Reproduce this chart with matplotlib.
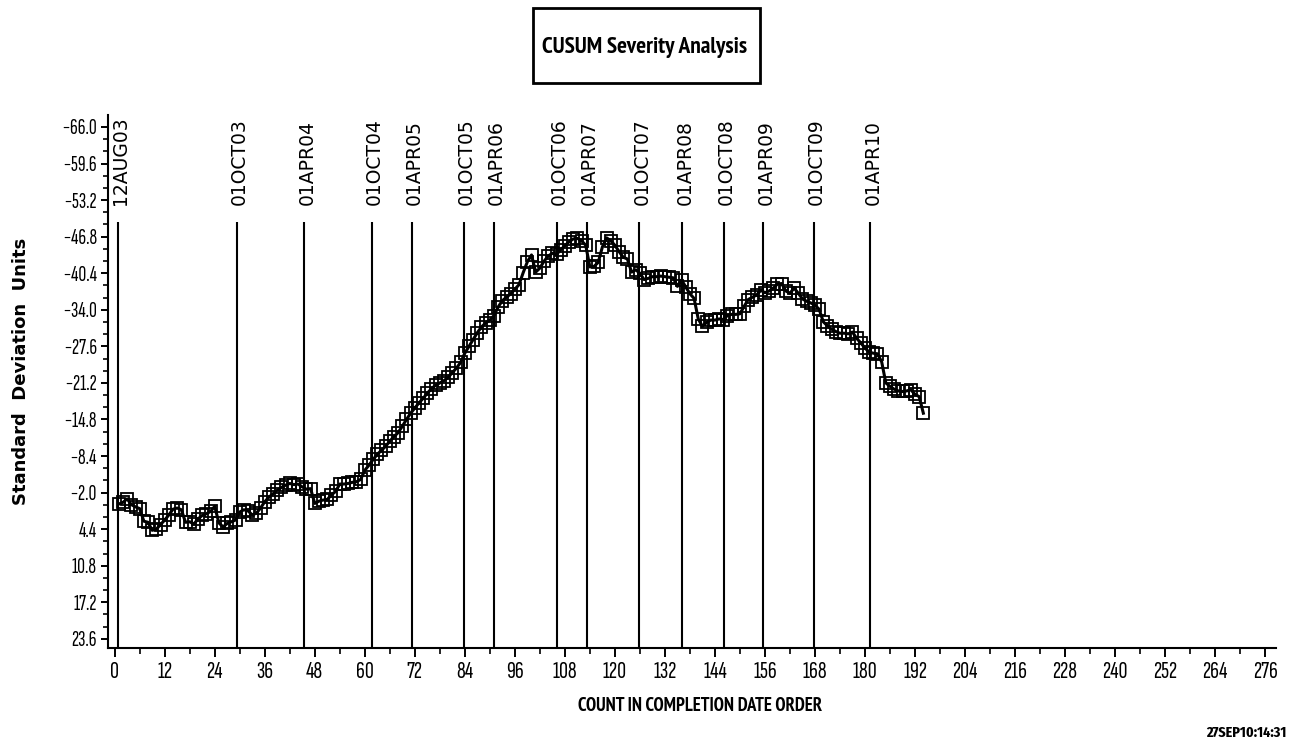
import os
import math
import matplotlib
matplotlib.use('Agg')
import matplotlib.pyplot as plt
from matplotlib import font_manager as fm
from matplotlib.ft2font import FT2Font
from matplotlib.patches import Rectangle
from matplotlib.ticker import FixedLocator

# ---------------- data ----------------
counts = list(range(1, 195))
cusum = [
    0.0, -0.3, -0.9, 0.1, 0.5, 0.8, 3.0, 3.2, 4.6, 4.4,
    3.6, 2.8, 1.9, 0.9, 0.7, 1.0, 3.2, 3.1, 3.5, 2.6,
    2.0, 1.7, 1.3, 0.4, 3.3, 4.0, 3.4, 3.1, 2.8, 1.4,
    1.0, 1.2, 1.9, 1.6, 0.7, -0.4, -1.2, -1.8, -2.4, -2.9,
    -3.3, -3.6, -3.4, -3.5, -3.0, -2.6, -2.7, -0.1, -0.5, -0.7,
    -0.8, -1.6, -2.2, -3.5, -3.5, -3.6, -3.8, -3.9, -4.3, -5.9,
    -6.8, -7.8, -8.7, -9.4, -10.1, -11.0, -11.8, -12.5, -13.6, -14.8,
    -15.9, -16.8, -17.7, -18.5, -19.4, -20.2, -20.8, -21.2, -21.6, -22.2,
    -23.0, -23.8, -24.8, -26.4, -27.6, -28.8, -30.0, -31.0, -31.7, -32.2,
    -33.0, -34.5, -35.6, -36.2, -36.8, -37.6, -38.4, -40.5, -42.4, -43.6,
    -40.6, -41.3, -42.5, -43.4, -43.9, -43.7, -44.5, -45.2, -45.9, -46.4,
    -46.5, -46.1, -45.3, -41.5, -41.6, -42.3, -45.0, -46.6, -46.1, -45.3,
    -44.2, -43.2, -42.9, -40.6, -41.0, -40.4, -39.3, -39.5, -39.8, -39.8,
    -39.9, -39.8, -39.7, -39.6, -38.1, -39.2, -38.0, -36.8, -36.0, -32.4,
    -31.1, -31.8, -32.2, -32.2, -32.4, -32.3, -33.0, -33.2, -33.2, -33.3,
    -34.6, -35.8, -36.2, -36.6, -37.4, -37.0, -37.3, -37.8, -38.5, -38.6,
    -37.3, -36.9, -37.8, -36.9, -35.9, -35.5, -35.2, -34.8, -34.1, -31.9,
    -31.2, -30.6, -30.2, -29.9, -29.9, -29.8, -30.1, -29.0, -28.2, -27.3,
    -26.6, -26.4, -26.3, -24.9, -21.2, -20.6, -20.1, -19.8, -19.7, -19.8,
    -20.0, -19.2, -18.8, -15.9,
]

event_labels = ['12AUG03', '01OCT03', '01APR04', '01OCT04', '01APR05',
                '01OCT05', '01APR06', '01OCT06', '01APR07', '01OCT07',
                '01APR08', '01OCT08', '01APR09', '01OCT09', '01APR10']
event_pos = [0.9, 29.3, 45.5, 61.7, 71.3, 83.7, 90.9, 106.1, 113.3, 125.9,
             136.2, 146.1, 155.6, 167.7, 181.3]

ytick_vals = [-66.0, -59.6, -53.2, -46.8, -40.4, -34.0, -27.6, -21.2,
              -14.8, -8.4, -2.0, 4.4, 10.8, 17.2, 23.6]
ytick_labels = ['\u221266.0', '\u221259.6', '\u221253.2', '\u221246.8',
                '\u221240.4', '\u221234.0', '\u221227.6', '\u221221.2',
                '\u221214.8', '\u22128.4', '\u22122.0', '4.4', '10.8',
                '17.2', '23.6']
xtick_vals = list(range(0, 277, 12))

title = 'CUSUM Severity Analysis'
xlabel = 'COUNT IN COMPLETION DATE ORDER'
ylabel = 'Standard  Deviation  Units'
stamp = '27SEP10:14:31'


# ---------------- fonts: choose faces whose proportions match ----------------
def _weight(f):
    w = f.weight
    if isinstance(w, str):
        w = fm.weight_dict.get(w, 400)
    return int(w)


CHECK = 'CUSUMSeverityAnalysisCOUNTDATEORDERH0123456789.:\u2212'


def _candidates(wmin, wmax):
    out = []
    seen = set()
    for f in fm.fontManager.ttflist:
        fn = os.path.basename(f.fname).lower()
        nm = f.name.lower()
        if f.fname in seen:
            continue
        seen.add(f.fname)
        if f.style != 'normal' or 'italic' in fn or 'oblique' in fn:
            continue
        if 'mono' in nm or 'display' in nm or 'cjk' in nm:
            continue
        if not ('sans' in nm or 'roboto' in nm or 'lato' in nm or 'inter' in nm):
            continue
        w = _weight(f)
        if not (wmin <= w <= wmax):
            continue
        try:
            ft = FT2Font(f.fname)
            if not all(ft.get_char_index(ord(c)) != 0 for c in CHECK):
                continue
        except Exception:
            continue
        out.append(f.fname)
    return out


def _metrics(path, s):
    ft = FT2Font(path)
    ft.set_size(100, 72)
    ft.set_text(s, 0.0)
    w = ft.get_width_height()[0] / 64.0
    ft.set_text('H', 0.0)
    h = ft.get_width_height()[1] / 64.0
    return w, h


def pick(sample, ratio, wmin, wmax, cap_px, max_w=None, fallback_weight='normal'):
    best = None
    for path in _candidates(wmin, wmax):
        try:
            w, h = _metrics(path, sample)
        except Exception:
            continue
        if h <= 0:
            continue
        score = abs(math.log((w / h) / ratio))
        if best is None or score < best[0]:
            best = (score, path, w, h)
    if best is None:
        return fm.FontProperties(family='DejaVu Sans', weight=fallback_weight,
                                 size=cap_px)
    _, path, w, h = best
    em_px = cap_px * 100.0 / h
    if max_w is not None:
        em_px = min(em_px, max_w * 100.0 / w)
    return fm.FontProperties(fname=path, size=em_px * 0.72)


ytick_prop = pick('\u221266.0', 37 / 14.0, 350, 500, 14)
xtick_prop = pick('108', 22 / 16.0, 350, 500, 16)
title_prop = pick(title, 170 / 20.0, 650, 900, 20, max_w=205,
                  fallback_weight='bold')
xlabel_prop = pick(xlabel, 233 / 15.0, 650, 900, 15, max_w=245,
                   fallback_weight='bold')
stamp_prop = pick(stamp, 77 / 11.0, 650, 900, 11, max_w=80,
                  fallback_weight='bold')

# ---------------- figure ----------------
W, H = 1299, 741
fig = plt.figure(figsize=(W / 100, H / 100), dpi=100)
ax = fig.add_axes([108 / W, (H - 648) / H, 1168 / W, (648 - 115) / H])

YBOT, YTOP = 25.2, -68.1
ax.set_xlim(-1.6, 278.6)
ax.set_ylim(YBOT, YTOP)

for s in ('top', 'right'):
    ax.spines[s].set_visible(False)
for s in ('left', 'bottom'):
    ax.spines[s].set_linewidth(1.5)

ax.vlines(event_pos, YBOT, -49.4, color='black', lw=1.5)
for p, lab in zip(event_pos, event_labels):
    ax.text(p + 0.6, -52.3, lab, rotation=90, ha='center', va='bottom',
            fontsize=13.5, family='DejaVu Sans', color='black')

ax.plot(counts, cusum, color='black', lw=2.2, marker='s', ms=8.3,
        mfc='none', mec='black', mew=1.3, zorder=3)

ax.xaxis.set_major_locator(FixedLocator(xtick_vals))
ax.xaxis.set_minor_locator(FixedLocator([v + 6 for v in xtick_vals]))
ax.set_xticklabels([str(v) for v in xtick_vals], fontproperties=xtick_prop)
ax.yaxis.set_major_locator(FixedLocator(ytick_vals))
ax.yaxis.set_minor_locator(FixedLocator(
    [v + d for v in ytick_vals[:-1] for d in (6.4 / 3, 12.8 / 3)]))
ax.set_yticklabels(ytick_labels, fontproperties=ytick_prop)

ax.tick_params(axis='x', which='major', direction='out', length=6.5, width=1.4, pad=3)
ax.tick_params(axis='x', which='minor', direction='out', length=4.5, width=1.2)
ax.tick_params(axis='y', which='major', direction='out', length=5, width=1.4, pad=3)
ax.tick_params(axis='y', which='minor', direction='out', length=3.5, width=1.2)

# axis titles
fig.text(700 / W, 1 - 706 / H, xlabel, ha='center', va='center',
         fontproperties=xlabel_prop)
fig.text(21 / W, 1 - 371 / H, ylabel, ha='center', va='center', rotation=90,
         fontsize=13, fontweight='bold', family='DejaVu Sans')

# title box
fig.patches.append(Rectangle((533 / W, 1 - 83 / H), 227 / W, 75 / H,
                             transform=fig.transFigure, fill=False,
                             lw=2.0, edgecolor='black'))
fig.text(645 / W, 1 - 48 / H, title, ha='center', va='center',
         fontproperties=title_prop)

# time stamp (bottom right)
fig.text(1287 / W, 1 / H, stamp, ha='right', va='bottom',
         fontproperties=stamp_prop)

fig.savefig('out.png', dpi=100)
